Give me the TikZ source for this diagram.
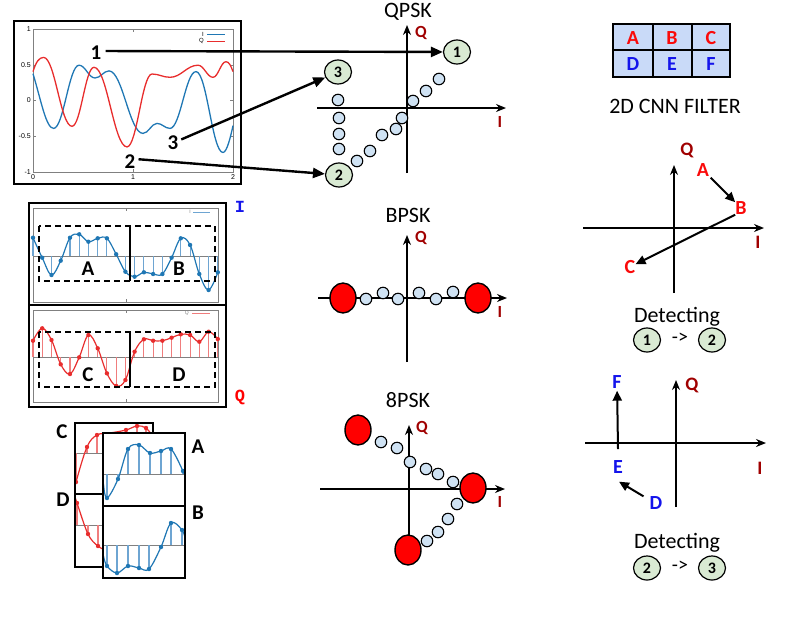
\documentclass[tikz,border=0pt]{standalone}
\usepackage{fontspec}
\setmainfont{Carlito}
\newfontfamily\monofnt{Liberation Mono}
\newfontfamily\arialfnt{Liberation Sans}
\usetikzlibrary{arrows.meta,shapes.geometric}
\newcommand\fsz[1]{\fontsize{#1}{#1}\selectfont}
\definecolor{iblue}{RGB}{31,119,180}
\definecolor{istem}{RGB}{110,165,210}
\definecolor{qred}{RGB}{232,45,45}
\definecolor{qstem}{RGB}{240,125,125}
\definecolor{dred}{RGB}{160,0,0}
\definecolor{pblue}{RGB}{207,226,243}
\definecolor{pgreen}{RGB}{217,234,211}
\definecolor{cellblue}{RGB}{201,218,248}
\definecolor{lblue}{RGB}{20,20,235}
\definecolor{lred}{RGB}{250,10,10}
\begin{document}
\begin{tikzpicture}[x=1pt,y=-1pt,
  title/.style={font=\fsz{22}, anchor=base, inner sep=0pt},
  axlab/.style={text=dred, font=\bfseries\fsz{17}, inner sep=0pt},
  rlet/.style={text=lred, font=\bfseries\fsz{20}, inner sep=0pt},
  blet/.style={text=lblue, font=\bfseries\fsz{20}, inner sep=0pt},
  sm/.style={circle, draw, line width=1.1pt, fill=pblue, minimum size=11.5pt, inner sep=0pt},
  bigr/.style={ellipse, draw, line width=1.4pt, fill=red, minimum width=26pt, minimum height=30pt, inner sep=0pt},
  gn/.style={ellipse, draw, line width=1.2pt, fill=pgreen, minimum width=27pt, minimum height=24pt, inner sep=0pt, font=\bfseries\fsz{16}},
  axis/.style={line width=1.5pt, -{Stealth[length=10pt,width=8pt]}},
  ptr/.style={line width=2.4pt, -{Triangle[length=12pt,width=10pt]}},
  ptrs/.style={line width=2pt, -{Triangle[length=10pt,width=9pt]}},
  num/.style={font=\bfseries\fsz{21}, inner sep=0pt},
  pl/.style={font=\bfseries\fsz{21}, inner sep=0pt},
  box/.style={line width=2pt, dash pattern=on 6pt off 4pt},
  tk/.style={font=\arialfnt\fsz{7}, inner sep=1pt},
  gr/.style={gray, line width=0.5pt}
]
\useasboundingbox (0,0) rectangle (789,630);

% ---------------- top-left plot ----------------
\draw[line width=2.8pt] (14,21) rectangle (241,184);
\draw[gr] (33,29) rectangle (233,172);
\foreach \y/\t [count=\i] in {29/1,65/0.5,100/0,136/-0.5,172/-1} {
  \draw[gr] (33,\y) -- (36,\y); \draw[gr] (233,\y) -- (230,\y);
  \node[tk, anchor=east] (ty\i) at (32,\y) {\t};}
\foreach \x/\t [count=\i] in {33/0,133/1,233/2} {
  \draw[gr] (\x,172) -- (\x,169); \draw[gr] (\x,29) -- (\x,32);
  \node[tk, anchor=north] (tx\i) at (\x,173) {\t};}
\draw[iblue, line width=1.3pt] (33,73.7) .. controls (41,100) and (46,128.4) .. (53.6,128.4)
 .. controls (63.6,128.4) and (69,65.2) .. (79,65.2)
 .. controls (85.4,65.2) and (88.6,78) .. (95,78)
 .. controls (100.6,78) and (103.4,70.9) .. (109,70.9)
 .. controls (122.6,70.9) and (129.4,133.4) .. (143,133.4)
 .. controls (148.6,133.4) and (151.4,123.4) .. (157,123.4)
 .. controls (162.2,123.4) and (164.8,128.4) .. (170,128.4)
 .. controls (180.4,128.4) and (185.6,71.6) .. (196,71.6)
 .. controls (206.8,71.6) and (212.2,152.5) .. (223,152.5)
 .. controls (227,152.5) and (231,135) .. (233,125.6);
\draw[qred, line width=1.3pt] (33,71.6) .. controls (36,62) and (39,57.4) .. (43.6,57.4)
 .. controls (55,57.4) and (60.6,126.3) .. (72,126.3)
 .. controls (80.8,126.3) and (85.2,67.3) .. (94,67.3)
 .. controls (107.2,67.3) and (113.8,146.9) .. (127,146.9)
 .. controls (137,146.9) and (142,74) .. (152,74)
 .. controls (159.2,74) and (162.8,77.3) .. (170,77.3)
 .. controls (181.2,77.3) and (186.8,65.2) .. (198,65.2)
 .. controls (204,65.2) and (207,77.3) .. (213,77.3)
 .. controls (218.2,77.3) and (220.8,61.7) .. (226,61.7)
 .. controls (229,61.7) and (231,66) .. (233,71.6);
\node[tk, anchor=east, font=\arialfnt\fsz{6}] (legI) at (205,34) {I};
\draw[iblue, line width=1pt] (207,34) -- (225,34);
\node[tk, anchor=east, font=\arialfnt\fsz{6}] (legQ) at (205,41) {Q};
\draw[qred, line width=1pt] (207,41) -- (225,41);
\node[num] (l1) at (96,53) {1};
\node[num] (l3) at (173,143) {3};
\node[num] (l2) at (130,162) {2};

% ---------------- middle-left I/Q plot ----------------
\draw[gr] (33,208) rectangle (218,302);
\draw[gr] (33,310) rectangle (218,402);
\foreach \y in {208,310} {\draw[gr] (126,\y) -- (126,\y+3);}
\foreach \y in {302,402} {\draw[gr] (126,\y) -- (126,\y-3);}
\draw[gray, line width=0.7pt] (33,256) -- (218,256);
\draw[gray, line width=0.7pt] (33,357) -- (218,357);
\foreach \x/\y in {33/237.7, 42.2/257.7, 51.5/275, 60.7/260.7, 70/237.7, 79.2/234.3, 88.4/241.7, 97.7/238.3, 106.9/238.3, 116.2/254.3, 125.4/271.7, 134.6/276.7, 143.9/272.3, 153.1/274, 162.4/274, 171.6/257.7, 180.8/238.3, 190.1/245, 199.3/274, 208.6/290, 217.8/272.3}
  {\draw[istem, line width=1.1pt] (\x,256) -- (\x,\y);}
\draw[iblue, line width=1.2pt] plot[smooth, tension=0.6] coordinates {(33,237.7) (42.2,257.7) (51.5,275) (60.7,260.7) (70,237.7) (79.2,234.3) (88.4,241.7) (97.7,238.3) (106.9,238.3) (116.2,254.3) (125.4,271.7) (134.6,276.7) (143.9,272.3) (153.1,274) (162.4,274) (171.6,257.7) (180.8,238.3) (190.1,245) (199.3,274) (208.6,290) (217.8,272.3)};
\foreach \x/\y in {33/237.7, 42.2/257.7, 51.5/275, 60.7/260.7, 70/237.7, 79.2/234.3, 88.4/241.7, 97.7/238.3, 106.9/238.3, 116.2/254.3, 125.4/271.7, 134.6/276.7, 143.9/272.3, 153.1/274, 162.4/274, 171.6/257.7, 180.8/238.3, 190.1/245, 199.3/274, 208.6/290, 217.8/272.3}
  {\fill[iblue] (\x,\y) circle (2.2pt);}
\foreach \x/\y in {33/340.7, 42.2/328.3, 51.5/340, 60.7/364.3, 70/374, 79.2/357.3, 88.4/335, 97.7/348.3, 106.9/373.3, 116.2/386, 125.4/380, 134.6/351.7, 143.9/339.3, 153.1/340.7, 162.4/340.7, 171.6/337.7, 180.8/334.3, 190.1/335, 199.3/341.7, 208.6/331.7, 217.8/339}
  {\draw[qstem, line width=1.1pt] (\x,357) -- (\x,\y);}
\draw[qred, line width=1.2pt] plot[smooth, tension=0.6] coordinates {(33,340.7) (42.2,328.3) (51.5,340) (60.7,364.3) (70,374) (79.2,357.3) (88.4,335) (97.7,348.3) (106.9,373.3) (116.2,386) (125.4,380) (134.6,351.7) (143.9,339.3) (153.1,340.7) (162.4,340.7) (171.6,337.7) (180.8,334.3) (190.1,335) (199.3,341.7) (208.6,331.7) (217.8,339)};
\foreach \x/\y in {33/340.7, 42.2/328.3, 51.5/340, 60.7/364.3, 70/374, 79.2/357.3, 88.4/335, 97.7/348.3, 106.9/373.3, 116.2/386, 125.4/380, 134.6/351.7, 143.9/339.3, 153.1/340.7, 162.4/340.7, 171.6/337.7, 180.8/334.3, 190.1/335, 199.3/341.7, 208.6/331.7, 217.8/339}
  {\fill[qred] (\x,\y) circle (2.2pt);}
\node[tk, anchor=east, text=gray, font=\arialfnt\fsz{5}] (leg2I) at (192,212) {I};
\draw[istem, line width=1pt] (193,212) -- (210,212);
\node[tk, anchor=east, text=gray, font=\arialfnt\fsz{5}] (leg2Q) at (190,313) {Q};
\draw[qstem, line width=1pt] (192,313) -- (210,313);
\draw[box] (39,226) rectangle (215,281);
\draw[line width=2pt] (130,226) -- (130,281);
\draw[box] (39,332) rectangle (215,387);
\draw[line width=2pt] (130,332) -- (130,387);
\node[pl] (pA) at (88,269) {A};
\node[pl] (pB) at (179,269) {B};
\node[pl] (pC) at (88,375) {C};
\node[pl] (pD) at (179,375) {D};
\draw[line width=2.5pt] (29,203) rectangle (226,407);
\draw[line width=2.5pt] (29,305) -- (226,305);
\node[text=lblue, font=\monofnt\bfseries\fsz{17}, inner sep=0pt] (mI) at (240,207) {I};
\node[text=red, font=\monofnt\bfseries\fsz{17}, inner sep=0pt] (mQ) at (240,397) {Q};

% ---------------- bottom-left stacked windows ----------------
\begin{scope}
\clip (75,423) rectangle (153,567);
\draw[gray, line width=0.7pt] (75,453) -- (153,453);
\draw[gray, line width=0.7pt] (75,525) -- (153,525);
\foreach \x/\y in {76/482, 87/447, 97/435, 126/430, 137/426, 146/428}
  {\draw[qstem, line width=1.1pt] (\x,453) -- (\x,\y);}
\draw[qred, line width=1.2pt] plot[smooth, tension=0.6] coordinates {(74,492) (76,482) (87,447) (97,435) (110,433) (126,430) (137,426) (146,428) (154,438)};
\foreach \x/\y in {76/482, 87/447, 97/435, 126/430, 137/426, 146/428}
  {\fill[qred] (\x,\y) circle (2.2pt);}
\foreach \x/\y in {77/503, 88/534, 98/546}
  {\draw[qstem, line width=1.1pt] (\x,525) -- (\x,\y);}
\draw[qred, line width=1.2pt] plot[smooth, tension=0.6] coordinates {(75,497) (77,503) (88,534) (98,546) (108,550) (120,545)};
\foreach \x/\y in {77/503, 88/534, 98/546}
  {\fill[qred] (\x,\y) circle (2.2pt);}
\end{scope}
\draw[line width=2pt] (75,423) rectangle (153,567);
\draw[line width=2pt] (75,494) -- (153,494);
\fill[white] (103,433) rectangle (185,578);
\begin{scope}
\clip (103,433) rectangle (185,578);
\draw[gray, line width=0.7pt] (103,474) -- (185,474);
\draw[gray, line width=0.7pt] (103,545) -- (185,545);
\foreach \x/\y in {107/498, 118/479, 128/449, 139/445, 150/453, 161/451, 171/449, 183/471}
  {\draw[istem, line width=1.1pt] (\x,474) -- (\x,\y);}
\draw[iblue, line width=1.2pt] plot[smooth, tension=0.6] coordinates {(103.5,484) (107,498) (118,479) (128,449) (139,445) (150,453) (161,451) (171,449) (183,471) (186,479)};
\foreach \x/\y in {107/498, 118/479, 128/449, 139/445, 150/453, 161/451, 171/449, 183/471}
  {\fill[iblue] (\x,\y) circle (2.2pt);}
\foreach \x/\y in {107/566, 117/573, 128/566, 139/568, 149/569, 161/547, 171/523, 182/530}
  {\draw[istem, line width=1.1pt] (\x,545) -- (\x,\y);}
\draw[iblue, line width=1.2pt] plot[smooth, tension=0.6] coordinates {(103.5,556) (107,566) (117,573) (128,566) (139,568) (149,569) (161,547) (171,523) (182,530) (186,541)};
\foreach \x/\y in {107/566, 117/573, 128/566, 139/568, 149/569, 161/547, 171/523, 182/530}
  {\fill[iblue] (\x,\y) circle (2.2pt);}
\end{scope}
\draw[line width=2pt] (103,433) rectangle (185,578);
\draw[line width=2pt] (103,506) -- (185,506);
\node[pl] (sC) at (62,432) {C};
\node[pl] (sD) at (63,500) {D};
\node[pl] (sA) at (198,447) {A};
\node[pl] (sB) at (198,513) {B};

% ---------------- QPSK ----------------
\node[title] (tq) at (408,17) {QPSK};
\coordinate (qv0) at (407,173); \coordinate (qv1) at (407,25);
\coordinate (qh0) at (317,108); \coordinate (qh1) at (506,108);
\draw[axis] (qv0) -- (qv1);
\draw[axis] (qh0) -- (qh1);
\node[axlab] (qQ) at (421,33) {Q};
\node[axlab] (qI) at (500,122) {I};
\foreach \x/\y [count=\i] in {439/79, 426/91, 413/101, 402/118, 396/129, 382/135, 370/151, 357/161, 338/100, 339/118, 339/134, 339/149}
  {\node[sm] (qs\i) at (\x,\y) {};}
\node[gn] (q1) at (457,52) {1};
\node[gn] (q3) at (338,72) {3};
\node[gn] (q2) at (339,175) {2};

% ---------------- BPSK ----------------
\node[title] (tb) at (408,222) {BPSK};
\coordinate (bv0) at (407,362); \coordinate (bv1) at (407,235);
\coordinate (bh0) at (318,298); \coordinate (bh1) at (507,298);
\draw[axis] (bv0) -- (bv1);
\draw[axis] (bh0) -- (bh1);
\node[axlab] (bQ) at (421,238) {Q};
\node[axlab] (bI) at (500,312) {I};
\foreach \x/\y [count=\i] in {366/299, 383/293, 398/299, 419/293, 436/299, 453/292}
  {\node[sm] (bs\i) at (\x,\y) {};}
\node[bigr] (b1) at (343,298) {};
\node[bigr] (b2) at (478,298) {};

% ---------------- 8PSK ----------------
\node[title] (te) at (408,407) {8PSK};
\coordinate (ev0) at (409,538); \coordinate (ev1) at (409,425);
\coordinate (eh0) at (320,489); \coordinate (eh1) at (505,489);
\draw[axis] (ev0) -- (ev1);
\draw[axis] (eh0) -- (eh1);
\node[axlab] (eQ) at (422,428) {Q};
\node[axlab] (eI) at (500,502) {I};
\foreach \x/\y [count=\i] in {381/442, 397/448, 410/462, 426/469, 438/474, 453/482, 457/504, 448/519, 438/532, 427/541}
  {\node[sm] (es\i) at (\x,\y) {};}
\node[bigr] (e1) at (358,430) {};
\node[bigr] (e2) at (473,488) {};
\node[bigr] (e3) at (408,550) {};

% ---------------- 2D CNN filter ----------------
\draw[fill=cellblue, line width=1.5pt] (613,24) rectangle (730,77);
\draw[line width=1.5pt] (653,24) -- (653,77);
\draw[line width=1.5pt] (692,24) -- (692,77);
\draw[line width=1.5pt] (613,50) -- (730,50);
\node[rlet] (fA) at (633,38) {A};
\node[rlet] (fB) at (672,38) {B};
\node[rlet] (fC) at (711,38) {C};
\node[blet] (fD) at (633,64) {D};
\node[blet] (fE) at (672,64) {E};
\node[blet] (fF) at (711,64) {F};
\node[title] (tf) at (675,113) {2D CNN FILTER};

% ---------------- right middle ----------------
\coordinate (mv0) at (674,293); \coordinate (mv1) at (674,165);
\coordinate (mh0) at (583,228); \coordinate (mh1) at (764,228);
\draw[axis] (mv0) -- (mv1);
\draw[axis] (mh0) -- (mh1);
\node[axlab, font=\bfseries\fsz{19}] (mQq) at (687,150) {Q};
\node[axlab, font=\bfseries\fsz{19}] (mIi) at (758,242) {I};
\node[rlet] (rA) at (703,170) {A};
\node[rlet] (rB) at (741,208) {B};
\node[rlet] (rC) at (630,267) {C};
\draw[ptrs, shorten <=2pt] (rA) -- (rB);
\draw[ptrs] (rB.south west) -- (rC);
\node[title] (td1) at (677,322) {Detecting};
\node[gn] (d1) at (647,340) {1};
\node[font=\fsz{20}, inner sep=0pt] (ar1) at (680,338) {->};
\node[gn] (d2) at (712,340) {2};

% ---------------- right bottom ----------------
\coordinate (nv0) at (676,507); \coordinate (nv1) at (676,380);
\coordinate (nh0) at (585,443); \coordinate (nh1) at (766,443);
\draw[axis] (nv0) -- (nv1);
\draw[axis] (nh0) -- (nh1);
\node[axlab, font=\bfseries\fsz{19}] (nQ) at (692,385) {Q};
\node[axlab, font=\bfseries\fsz{19}] (nI) at (760,468) {I};
\node[blet] (rF) at (617,382) {F};
\node[blet] (rE) at (618,467) {E};
\node[blet] (rD) at (656,503) {D};
\coordinate (ef) at (618,449);
\draw[ptrs, shorten >=2pt] (ef) -- (rF);
\draw[ptrs] ([xshift=-6pt]rD.north west) -- ([xshift=1pt,yshift=-8pt]rE.south);
\node[title] (td2) at (677,548) {Detecting};
\node[gn] (d3) at (647,568) {2};
\node[font=\fsz{20}, inner sep=0pt] (ar2) at (680,566) {->};
\node[gn] (d4) at (712,568) {3};

% ---------------- pointers from labels ----------------
\draw[ptr, shorten <=4pt] ([yshift=2pt]l1.east) -- (q1);
\draw[ptr, shorten <=3pt] (l3) -- (q3);
\draw[ptr, shorten <=3pt] ([yshift=3pt]l2.east) -- (q2);
\end{tikzpicture}
\end{document}
